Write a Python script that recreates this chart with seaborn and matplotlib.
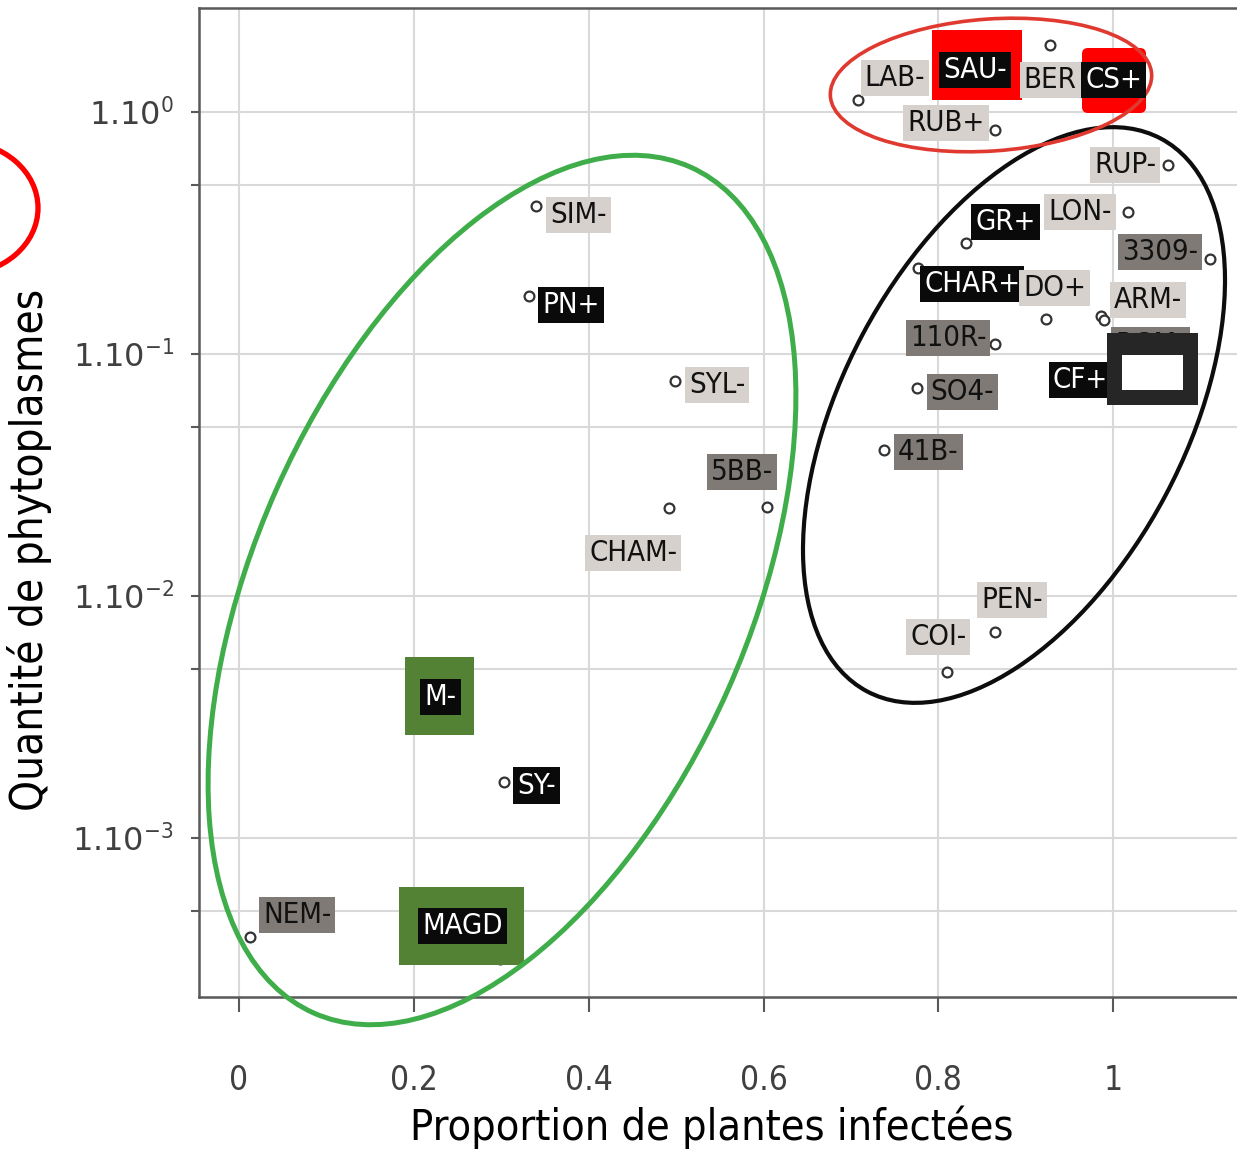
import numpy as np
import pandas as pd
import matplotlib
matplotlib.use("Agg")
import matplotlib.pyplot as plt
import matplotlib.transforms as mtransforms
from matplotlib.patches import Ellipse, FancyBboxPatch
from matplotlib.ticker import FixedLocator, NullFormatter
import seaborn as sns

# --- donnees ---
noms = ["LAB-", "SAU-", "BER", "CS+", "RUB+", "RUP-", "LON-", "GR+", "3309-",
        "CHAR+", "DO+", "ARM-", "RGM-", "110R-", "CF+", "SO4-", "41B-", "PEN-",
        "COI-", "SIM-", "PN+", "SYL-", "5BB-", "CHAM-", "M-", "SY-", "NEM-", "MAGD"]
proportion = [0.708, 0.882, 0.928, 1.029, 0.865, 1.063, 1.017, 0.832, 1.111,
              0.777, 0.923, 0.986, 0.990, 0.865, 0.997, 0.776, 0.738, 0.865,
              0.810, 0.340, 0.332, 0.499, 0.604, 0.492, 0.259, 0.303, 0.0126, 0.299]
quantite = [1.12, 1.61, 1.89, 1.18, 0.843, 0.604, 0.386, 0.288, 0.247,
            0.227, 0.140, 0.144, 0.138, 0.110, 0.078, 0.0723, 0.0401, 0.00707,
            0.00486, 0.409, 0.174, 0.0774, 0.0233, 0.0231, 0.00371, 0.00171, 3.9e-4, 3.17e-4]
classe = ["clair", "noir", "clair", "noir", "clair", "clair", "clair", "noir", "gris",
          "noir", "clair", "clair", "gris", "gris", "noir", "gris", "gris", "clair",
          "clair", "clair", "noir", "clair", "gris", "clair", "noir", "noir", "gris", "noir"]

y_ticks = [1e-3, 1e-2, 1e-1, 1]
y_ticklabels = [r"1.10$^{-3}$", r"1.10$^{-2}$", r"1.10$^{-1}$", r"1.10$^{0}$"]
x_ticks = [0, 0.2, 0.4, 0.6, 0.8, 1]
x_ticklabels = ["0", "0.2", "0.4", "0.6", "0.8", "1"]

# decalage des etiquettes (pixels, depuis le point)
decalage = {"LAB-": (37, -22), "SAU-": (-35, 8), "BER": (0, 35), "CS+": (-25, -15),
            "RUB+": (-49, -7), "RUP-": (-43, 0), "LON-": (-48, 0), "GR+": (39, -21),
            "3309-": (-50, -7), "CHAR+": (54, 16), "DO+": (9, -31), "ARM-": (47, -16),
            "RGM-": (46, 25), "110R-": (-47, -6), "CF+": (-30, 0), "SO4-": (45, 4),
            "41B-": (44, 2), "PEN-": (17, -32), "COI-": (-9, -35), "SIM-": (42, 9),
            "PN+": (42, 9), "SYL-": (42, 4), "5BB-": (-25, -35), "CHAM-": (-36, 45),
            "M-": (-25, -3), "SY-": (33, 4), "NEM-": (47, -22), "MAGD": (-38, -33)}
couleurs = {"clair": ("#d6d1cc", "#111111"), "gris": ("#7f7a75", "#111111"),
            "noir": ("#0a0a0a", "white")}

df = pd.DataFrame({"nom": noms, "prop": proportion, "qte": quantite, "classe": classe})

sns.set_style("white")
plt.rcParams["font.family"] = ["Liberation Sans Narrow", "DejaVu Sans"]
plt.rcParams["font.stretch"] = "condensed"

W, H = 1237, 1151
fig = plt.figure(figsize=(W / 100, H / 100), dpi=100)
ax = fig.add_axes([199 / W, 1 - 997 / H, (1260 - 199) / W, (997 - 8) / H])

sns.scatterplot(data=df, x="prop", y="qte", ax=ax, marker="o", s=50,
                facecolor="white", edgecolor="#333333", linewidth=1.6,
                zorder=4, legend=False)
ax.set_yscale("log")
ax.set_xlim(-0.0458, 1.168)
ax.set_ylim(2.2e-4, 2.69)

ax.set_yticks(y_ticks)
ax.set_yticklabels(y_ticklabels)
ax.yaxis.set_minor_locator(FixedLocator([5e-4, 5e-3, 5e-2, 5e-1]))
ax.yaxis.set_minor_formatter(NullFormatter())
ax.set_xticks(x_ticks)
ax.set_xticklabels(x_ticklabels)
ax.set_xlabel("")
ax.set_ylabel("")

ax.grid(True, which="both", color="#d9d9d9", linewidth=1.5)
ax.set_axisbelow(True)
for s in ["left", "bottom", "top"]:
    ax.spines[s].set_color("#595959")
    ax.spines[s].set_linewidth(1.8)
ax.spines["right"].set_visible(False)

ax.tick_params(axis="y", which="both", direction="out", length=6, width=1.5,
               color="#595959", labelsize=23, labelcolor="#404040", pad=12, left=True)
ax.tick_params(axis="x", direction="out", length=11, width=1.5, color="#595959",
               labelsize=24, labelcolor="#404040", pad=37, bottom=True)
for lbl in ax.get_yticklabels():
    lbl.set_fontfamily("DejaVu Sans")
    lbl.set_fontstretch("normal")

# etiquettes
for _, r in df.iterrows():
    fc, tc = couleurs[r["classe"]]
    dx, dy = decalage[r["nom"]]
    ax.annotate(r["nom"], (r["prop"], r["qte"]), xytext=(dx * 0.72, -dy * 0.72),
                textcoords="offset points", ha="center", va="center",
                fontsize=21, color=tc, zorder=6,
                bbox=dict(boxstyle="square,pad=0.14", fc=fc, ec="none"),
                annotation_clip=False)

# annotations (en pixels de l'image)
pix = mtransforms.Affine2D().scale(0.01, -0.01).translate(0, H / 100) + fig.dpi_scale_trans

def cadre(x0, y0, x1, y1, col, z=5, rond=0):
    style = "round,pad=0,rounding_size=%d" % rond if rond else "square,pad=0"
    p = FancyBboxPatch((x0, y0), x1 - x0, y1 - y0, boxstyle=style,
                       fc=col, ec="none", transform=pix, zorder=z, clip_on=False)
    ax.add_patch(p)

cadre(932, 30, 1022, 100, "#ff0000")
cadre(1082, 48, 1146, 113, "#ff0000", rond=6)
cadre(405, 657, 474, 735, "#548235")
cadre(399, 887, 524, 965, "#548235")
cadre(1107, 333, 1198, 405, "#262626", z=7)
cadre(1122, 355, 1183, 390, "white", z=7.1)

ellipses = [((502, 590), 926, 494, -66, "#3fae4a", 3.6),
            ((1014, 415), 626, 343, -62, "#0d0d0d", 3.0),
            ((991, 85), 322, 132, -4, "#e0392f", 2.6),
            ((-40, 208), 156, 133, 0, "#ff0000", 3.8)]
for c, w, h, a, col, lw in ellipses:
    ax.add_patch(Ellipse(c, w, h, angle=a, fill=False, ec=col, lw=lw,
                         transform=pix, zorder=5.5, clip_on=False))

fig.text(712 / W, 1 - 1127 / H, "Proportion de plantes infectées", ha="center",
         va="center", fontsize=31, color="black")
fig.text(30 / W, 1 - 550 / H, "Quantité de phytoplasmes", ha="center",
         va="center", rotation=90, fontsize=31.5, color="black")

fig.savefig("out.png", dpi=100)
